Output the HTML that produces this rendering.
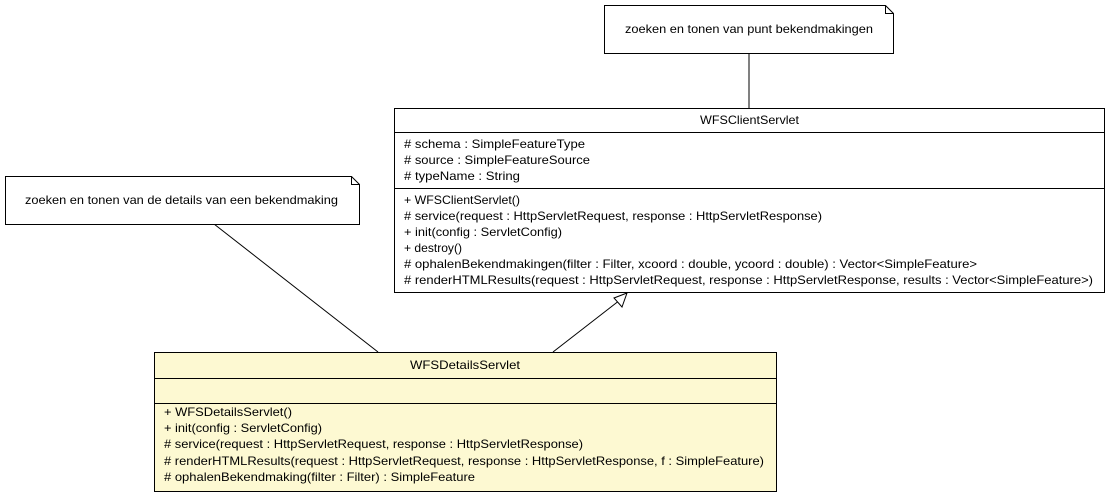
<!DOCTYPE html>
<html><head><style>html,body{margin:0;padding:0;background:#fff;}svg{display:block}</style></head>
<body>
<svg width="1120" height="501" xmlns="http://www.w3.org/2000/svg" font-family="Liberation Sans, sans-serif" font-size="12" fill="#000">
<line x1="749" y1="53" x2="749" y2="108" stroke="#000"/>
<line x1="214" y1="224" x2="378" y2="352" stroke="#000"/>
<line x1="553" y1="352" x2="620" y2="300" stroke="#000"/>
<polygon points="627,293 614,298 622,307" fill="#fff" stroke="#000"/>

<path d="M604.5,5.5 H885.5 L893.5,13.5 V53.5 H604.5 Z" fill="#fff" stroke="#000"/>
<path d="M885.5,5.5 V13.5 H893.5" fill="none" stroke="#000"/>
<text x="625" y="33" textLength="248" lengthAdjust="spacingAndGlyphs">zoeken en tonen van punt bekendmakingen</text>

<path d="M5.5,176.5 H351.5 L359.5,184.5 V224.5 H5.5 Z" fill="#fff" stroke="#000"/>
<path d="M351.5,176.5 V184.5 H359.5" fill="none" stroke="#000"/>
<text x="25" y="204" textLength="313" lengthAdjust="spacingAndGlyphs">zoeken en tonen van de details van een bekendmaking</text>

<rect x="394.5" y="108.5" width="710" height="184" fill="#fff" stroke="#000"/>
<line x1="394" y1="132.5" x2="1104" y2="132.5" stroke="#000"/>
<line x1="394" y1="188.5" x2="1104" y2="188.5" stroke="#000"/>
<text x="700" y="124" textLength="99" lengthAdjust="spacingAndGlyphs">WFSClientServlet</text>
<text x="404" y="148" textLength="181" lengthAdjust="spacingAndGlyphs"># schema : SimpleFeatureType</text>
<text x="404" y="164" textLength="186" lengthAdjust="spacingAndGlyphs"># source : SimpleFeatureSource</text>
<text x="404" y="180" textLength="116" lengthAdjust="spacingAndGlyphs"># typeName : String</text>
<text x="404" y="204" textLength="116" lengthAdjust="spacingAndGlyphs">+ WFSClientServlet()</text>
<text x="404" y="220" textLength="418" lengthAdjust="spacingAndGlyphs"># service(request : HttpServletRequest, response : HttpServletResponse)</text>
<text x="404" y="236" textLength="158" lengthAdjust="spacingAndGlyphs">+ init(config : ServletConfig)</text>
<text x="404" y="252" textLength="58" lengthAdjust="spacingAndGlyphs">+ destroy()</text>
<text x="404" y="268" textLength="573" lengthAdjust="spacingAndGlyphs"># ophalenBekendmakingen(filter : Filter, xcoord : double, ycoord : double) : Vector&lt;SimpleFeature&gt;</text>
<text x="404" y="284" textLength="689" lengthAdjust="spacingAndGlyphs"># renderHTMLResults(request : HttpServletRequest, response : HttpServletResponse, results : Vector&lt;SimpleFeature&gt;)</text>

<rect x="154.5" y="352.5" width="622" height="139" fill="#fdf9d2" stroke="#000"/>
<line x1="154" y1="378.5" x2="776" y2="378.5" stroke="#000"/>
<line x1="154" y1="403.5" x2="776" y2="403.5" stroke="#000"/>
<text x="410" y="369" textLength="110" lengthAdjust="spacingAndGlyphs">WFSDetailsServlet</text>
<text x="164" y="416" textLength="128" lengthAdjust="spacingAndGlyphs">+ WFSDetailsServlet()</text>
<text x="164" y="432" textLength="158" lengthAdjust="spacingAndGlyphs">+ init(config : ServletConfig)</text>
<text x="164" y="448" textLength="419" lengthAdjust="spacingAndGlyphs"># service(request : HttpServletRequest, response : HttpServletResponse)</text>
<text x="164" y="465" textLength="600" lengthAdjust="spacingAndGlyphs"># renderHTMLResults(request : HttpServletRequest, response : HttpServletResponse, f : SimpleFeature)</text>
<text x="164" y="481" textLength="311" lengthAdjust="spacingAndGlyphs"># ophalenBekendmaking(filter : Filter) : SimpleFeature</text>
</svg>
</body></html>
